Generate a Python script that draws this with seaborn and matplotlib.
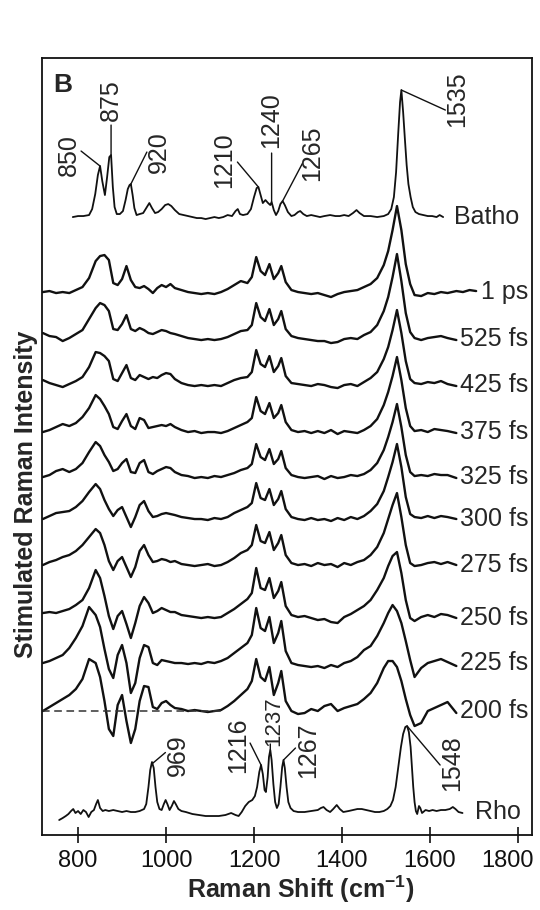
import numpy as np
import pandas as pd
import seaborn as sns
import matplotlib.pyplot as plt
from matplotlib.transforms import ScaledTranslation

# Raman shift grid for the time-resolved traces (cm-1)
shift_grid = [720, 735, 750, 765, 780, 795, 810, 825, 840, 850,
              860, 870, 880, 890, 900, 910, 920, 930, 940, 950,
              960, 970, 980, 990, 1000, 1010, 1020, 1035, 1050, 1065,
              1080, 1095, 1110, 1125, 1140, 1155, 1170, 1185, 1195, 1205,
              1215, 1225, 1235, 1245, 1255, 1262, 1272, 1285, 1300, 1315,
              1330, 1345, 1360, 1375, 1390, 1405, 1420, 1435, 1450, 1465,
              1480, 1495, 1505, 1515, 1525, 1535, 1545, 1555, 1565, 1580,
              1595, 1610, 1625, 1640, 1660, 1675, 1690, 1705]

# intensities (arbitrary units above each baseline)
trace_1ps = [0, 1, -1, 0, -1, 2, 5, 14, 31, 36,
             37, 32, 9, 7, 13, 26, 12, 5, 4, 6,
             3, -1, 4, 7, 5, 8, 4, 2, 0, -1,
             -2, -1, -2, 0, 3, 7, 11, 9, 15, 35,
             21, 17, 28, 13, 19, 26, 10, 2, 0, -1,
             -2, -1, -3, -5, -2, 0, 1, 2, 5, 8,
             14, 27, 41, 62, 86, 62, 28, 8, -3, -4,
             -1, -2, 0, -1, 1, 0, 2, 1]
trace_525fs = [6, 3, 2, -2, 1, 5, 9, 20, 31, 36,
               34, 28, 10, 9, 15, 24, 10, 8, 11, 9,
               6, 5, 7, 9, 8, 6, 5, 3, 1, 0,
               -1, 0, -1, 0, 2, 5, 8, 9, 14, 36,
               22, 18, 30, 14, 20, 28, 10, 3, 1, 0,
               -1, -2, -2, -4, -3, 0, 1, 0, 4, 7,
               14, 28, 42, 62, 85, 58, 26, 7, 1, -1,
               1, 2, 3, 1, -1]
trace_425fs = [5, 2, 0, -2, 1, 4, 8, 18, 33, 32,
               29, 24, 6, 4, 12, 20, 7, 5, 10, 8,
               6, 8, 7, 10, 12, 11, 6, 2, 0, -1,
               0, -1, 0, -1, 2, 5, 7, 8, 13, 35,
               21, 18, 29, 13, 19, 27, 9, 2, 1, 0,
               -1, 1, 0, -2, -3, 0, 1, -1, 3, 7,
               13, 26, 38, 55, 75, 52, 24, 6, 2, 1,
               3, 2, 4, 1, -1]
trace_375fs = [0, 2, 5, 8, 6, 9, 15, 24, 37, 33,
               26, 18, 5, 3, 11, 18, 6, 3, 14, 12,
               4, 5, 6, 7, 6, 8, 5, 2, 0, 1,
               -1, 0, 0, -1, 1, 4, 7, 10, 14, 35,
               21, 18, 29, 14, 19, 27, 10, 2, 0, 1,
               -1, 1, -1, 2, -2, 1, 0, -1, 2, 6,
               13, 27, 40, 56, 75, 52, 24, 6, 1, 2,
               0, 3, 2, 1, -1]
trace_325fs = [0, 2, 6, 8, 5, 8, 14, 25, 35, 31,
               22, 15, 6, 8, 14, 18, 5, 4, 14, 17,
               5, 3, 6, 8, 10, 9, 5, 2, 1, -1,
               0, -1, 1, 0, 2, 4, 7, 9, 13, 33,
               20, 17, 28, 13, 18, 26, 9, 2, 0, -1,
               0, 1, -2, 1, -1, 0, 2, 1, 3, 7,
               14, 27, 40, 55, 73, 50, 22, 5, 1, 2,
               1, 3, 2, 2, -1]
trace_300fs = [0, 3, 6, 7, 8, 12, 18, 27, 35, 30,
               19, 10, 3, 9, 12, 2, -8, 2, 14, 18,
               8, 2, 3, 5, 6, 5, 4, 2, 1, 0,
               0, -1, 1, 0, 2, 6, 9, 12, 16, 36,
               21, 19, 30, 14, 20, 28, 10, 2, 0, -1,
               1, -1, 0, -2, 1, -1, 2, 0, 3, 8,
               15, 28, 42, 57, 75, 52, 22, 5, 2, 1,
               3, 1, 3, 2, 0]
trace_275fs = [0, 3, 5, 8, 10, 14, 20, 28, 36, 32,
               20, 4, -5, 4, 8, -2, -12, -2, 14, 20,
               10, 3, 4, 6, 5, 3, 4, 1, 0, -1,
               0, 1, -1, 0, 3, 7, 12, 15, 20, 40,
               24, 22, 33, 15, 22, 30, 10, 2, 0, 1,
               -1, 2, 0, 1, -2, 2, 0, 3, 5, 10,
               18, 32, 46, 60, 72, 48, 20, 2, -1, 0,
               2, 3, 1, 3, 0]
trace_250fs = [5, 6, 5, 7, 9, 13, 18, 30, 48, 40,
               22, 2, -11, 2, 7, -6, -20, -5, 12, 21,
               15, 5, 7, 10, 8, 6, 6, 3, 2, 1,
               0, 1, 0, 1, 5, 9, 14, 19, 25, 50,
               30, 28, 40, 20, 27, 36, 12, 3, 1, 2,
               0, -2, -1, -4, -5, 1, 4, 8, 12, 18,
               28, 40, 52, 62, 66, 45, 18, 0, -3, 1,
               3, 1, 4, 3, 0]
trace_225fs = [0, 2, 5, 8, 15, 25, 37, 56, 48, 36,
               14, -6, -15, 8, 18, 0, -30, -20, 5, 18,
               16, 0, -2, 3, 2, 1, 0, 0, -1, 0,
               -1, 1, 0, 2, 5, 10, 15, 20, 28, 55,
               35, 32, 46, 20, 30, 42, 12, 0, -2, -3,
               -4, -3, -5, -2, -4, 0, 2, 6, 13, 17,
               27, 40, 50, 58, 52, 40, 22, 3, -14, -5,
               0, 2, 4, 1, -3]
trace_200fs = [0, 4, 8, 12, 16, 22, 32, 52, 48, 34,
               10, -18, -25, 6, 16, -10, -32, -18, 10, 25,
               24, 4, 2, 8, 10, 6, 3, 2, 0, 1,
               0, -1, 0, 1, 5, 10, 16, 22, 30, 52,
               34, 30, 44, 16, 28, 40, 10, 0, -3, -2,
               2, 0, 5, 7, 0, 3, 5, 7, 12, 18,
               28, 43, 50, 50, 44, 30, 12, -4, -15, -12,
               0, 3, 6, 9, -2]

delay_labels = ['1 ps', '525 fs', '425 fs', '375 fs', '325 fs', '300 fs',
                '275 fs', '250 fs', '225 fs', '200 fs']
delay_traces = [trace_1ps, trace_525fs, trace_425fs, trace_375fs, trace_325fs,
                trace_300fs, trace_275fs, trace_250fs, trace_225fs, trace_200fs]

# bathorhodopsin reference spectrum
batho_x = [788, 800, 812, 825, 832, 839, 845, 850, 855, 861,
           866, 871, 875, 879, 883, 888, 895, 902, 908, 913,
           917, 920, 924, 928, 933, 940, 948, 955, 962, 968,
           975, 982, 990, 998, 1005, 1012, 1020, 1030, 1040, 1050,
           1060, 1070, 1080, 1090, 1100, 1110, 1120, 1130, 1140, 1150,
           1158, 1163, 1168, 1175, 1185, 1193, 1200, 1206, 1210, 1215,
           1220, 1226, 1232, 1237, 1240, 1245, 1250, 1255, 1260, 1265,
           1270, 1277, 1285, 1292, 1300, 1305, 1312, 1320, 1330, 1340,
           1350, 1360, 1373, 1385, 1395, 1405, 1415, 1425, 1433, 1440,
           1450, 1465, 1480, 1495, 1505, 1512, 1518, 1523, 1528, 1532,
           1535, 1539, 1543, 1547, 1551, 1556, 1561, 1567, 1575, 1585,
           1595, 1605, 1615, 1622, 1630]
batho_y = [0, 1, 1, 2, 8, 23, 42, 51, 36, 22,
           40, 60, 62, 30, 10, 3, 3, 6, 17, 28,
           32, 33, 22, 9, 2, 3, 4, 9, 14, 9,
           4, 5, 8, 12, 13, 11, 7, 3, 2, 1,
           0, -1, -1, -2, -1, 0, -1, 0, 2, 1,
           6, 8, 3, 2, 3, 8, 20, 29, 30, 22,
           14, 17, 14, 12, 15, 7, 2, 6, 13, 16,
           12, 5, 1, 2, 5, 6, 3, 1, 2, 1,
           0, 1, 2, 1, 1, 2, 1, 4, 7, 4,
           1, 1, 0, 1, 3, 8, 20, 45, 85, 115,
           127, 105, 78, 52, 33, 20, 10, 5, 3, 2,
           1, 1, 0, 2, 0]

# rhodopsin reference spectrum
rho_x = [757, 765, 772, 778, 784, 789, 794, 800, 806, 812,
         818, 824, 830, 836, 841, 845, 850, 856, 862, 870,
         880, 890, 900, 910, 920, 930, 940, 950, 955, 960,
         964, 968, 972, 976, 980, 985, 990, 995, 999, 1003,
         1008, 1013, 1018, 1022, 1028, 1035, 1045, 1060, 1075, 1090,
         1105, 1120, 1135, 1148, 1158, 1165, 1172, 1180, 1188, 1196,
         1202, 1207, 1212, 1216, 1220, 1224, 1227, 1231, 1234, 1237,
         1240, 1244, 1248, 1252, 1256, 1260, 1264, 1267, 1270, 1274,
         1278, 1283, 1290, 1300, 1315, 1330, 1345, 1352, 1358, 1365,
         1373, 1380, 1388, 1395, 1403, 1415, 1425, 1435, 1445, 1455,
         1465, 1475, 1485, 1495, 1503, 1510, 1516, 1522, 1528, 1534,
         1539, 1544, 1548, 1552, 1556, 1559, 1562, 1565, 1568, 1571,
         1575, 1578, 1582, 1590, 1598, 1606, 1615, 1625, 1635, 1645,
         1652, 1658, 1665, 1674]
rho_y = [-8, -6, -4, -2, 1, 3, -1, 1, -2, 2,
         0, -5, 0, 2, 8, 12, 4, 1, 2, 1,
         2, 1, 0, 1, 0, 0, 1, 3, 8, 25,
         42, 50, 44, 25, 10, 3, 2, 8, 12, 8,
         2, 6, 11, 8, 3, 1, 0, -2, -3, -4,
         -4, -4, -3, -1, -3, -4, 0, 6, 10, 12,
         16, 25, 40, 47, 38, 22, 20, 35, 55, 62,
         52, 28, 10, 4, 8, 25, 45, 52, 44, 25,
         10, 4, 1, 0, 0, 1, 2, 4, 5, 2,
         0, 3, 7, 3, 0, 1, 2, 3, 3, 2,
         1, 0, 0, 1, 3, 6, 12, 25, 45, 65,
         78, 85, 86, 80, 65, 45, 25, 10, 1, -2,
         6, 4, -1, 2, 1, 2, 1, 2, 2, 3,
         5, 3, 0, -1]

batho_peaks = ['850', '875', '920', '1210', '1240', '1265', '1535']
rho_peaks = ['969', '1216', '1237', '1267', '1548']
x_ticks = [800, 1000, 1200, 1400, 1600, 1800]

# layout: vertical offsets of the stacked traces (same units as intensities)
batho_base = 618
delay_bases = [543, 496, 450, 403, 358, 316, 270, 217, 172, 124]
rho_base = 23

# leader line end / label centre relative to the peak tip, in pixels
batho_offsets = [((-19, 15), (-31, 11)), ((0, 30), (0, 55)), ((16, 32), (28, 32)),
                 ((-21, 25), (-34, 27)), ((0, 49), (0, 82)), ((20, 38), (30, 48)),
                 ((44, -20), (56, -9))]
rho_offsets = [((13, 11), (25, 8)), ((-11, 22), (-23, 20)), ((0, 6), (3, 29)),
               ((12, 12), (25, 10)), ((33, -39), (45, -37))]

sns.set_theme(style='ticks')
plt.rcParams['font.family'] = ['Liberation Sans', 'DejaVu Sans']
plt.rcParams['mathtext.fontset'] = 'custom'
plt.rcParams['mathtext.rm'] = 'Liberation Sans'
plt.rcParams['mathtext.bf'] = 'Liberation Sans:bold'

fig = plt.figure(figsize=(5.4, 9.1), dpi=100)
ax = fig.add_axes([0.0778, 0.0824, 0.9074, 0.8538])

# time-resolved traces in one long table
rows = []
for label, trace, base in zip(delay_labels, delay_traces, delay_bases):
    for sx, h in zip(shift_grid, trace):
        rows.append({'shift': sx, 'signal': base + h, 'delay': label})
df = pd.DataFrame(rows)

sns.lineplot(data=df, x='shift', y='signal', units='delay', estimator=None,
             color='#111111', lw=1.7, ax=ax)
sns.lineplot(x=batho_x, y=np.array(batho_y) + batho_base, color='#111111', lw=1.3, ax=ax)
sns.lineplot(x=rho_x, y=np.array(rho_y) + rho_base, color='#111111', lw=1.3, ax=ax)

# dashed zero line under the earliest trace
ax.hlines(delay_bases[-1], 718, 1130, colors='#333333', lw=1.1, linestyles=(0, (5, 3)))

# trace labels
for label, base in zip(delay_labels, delay_bases):
    ax.text(1823, base, label, ha='right', va='center', fontsize=18)
ax.text(1655, batho_base, 'Batho', ha='left', va='center', fontsize=18)
ax.text(1702, rho_base, 'Rho', ha='left', va='center', fontsize=18)


def mark_peak(ax, label, tip, line_off, text_off, size=18):
    ax.annotate('', xy=tip, xytext=line_off, textcoords='offset pixels',
                arrowprops=dict(arrowstyle='-', lw=1.0, color='#111111',
                                shrinkA=0, shrinkB=0))
    ax.annotate(label, xy=tip, xytext=text_off, textcoords='offset pixels',
                rotation=90, ha='center', va='center', fontsize=size)


for label, (l_off, t_off) in zip(batho_peaks, batho_offsets):
    px = float(label)
    tip = (px, batho_base + np.interp(px, batho_x, batho_y))
    mark_peak(ax, label, tip, l_off, t_off)

for label, (l_off, t_off) in zip(rho_peaks, rho_offsets):
    px = float(label)
    tip = (px, rho_base + np.interp(px, rho_x, rho_y))
    mark_peak(ax, label, tip, l_off, t_off, size=16 if label == '1237' else 18)

ax.text(0.0225, 0.956, 'B', transform=ax.transAxes, fontsize=19,
        fontweight='bold', ha='left', va='baseline')

ax.set_xlim(718, 1832)
ax.set_ylim(0, 777)
ax.set_xticks(x_ticks)
ax.set_yticks([])
ax.tick_params(axis='x', direction='inout', length=11, width=1.2,
               labelsize=17, pad=5, colors='#111111')
for sp in ax.spines.values():
    sp.set_linewidth(1.3)
    sp.set_color('#111111')

# last tick label sits a little left of its tick so it stays inside the figure
last = ax.get_xticklabels()[-1]
last.set_transform(last.get_transform() + ScaledTranslation(-0.1, 0, fig.dpi_scale_trans))

ax.set_xlabel(r'Raman Shift (cm$^{\mathbf{-1}}$)', fontsize=18, fontweight='bold')
ax.xaxis.set_label_coords(0.527, -0.05)
ax.set_ylabel('Stimulated Raman Intensity', fontsize=18, fontweight='bold', va='center')
ax.yaxis.set_label_coords(-0.033, 0.439)

fig.savefig('out.png', dpi=100)
